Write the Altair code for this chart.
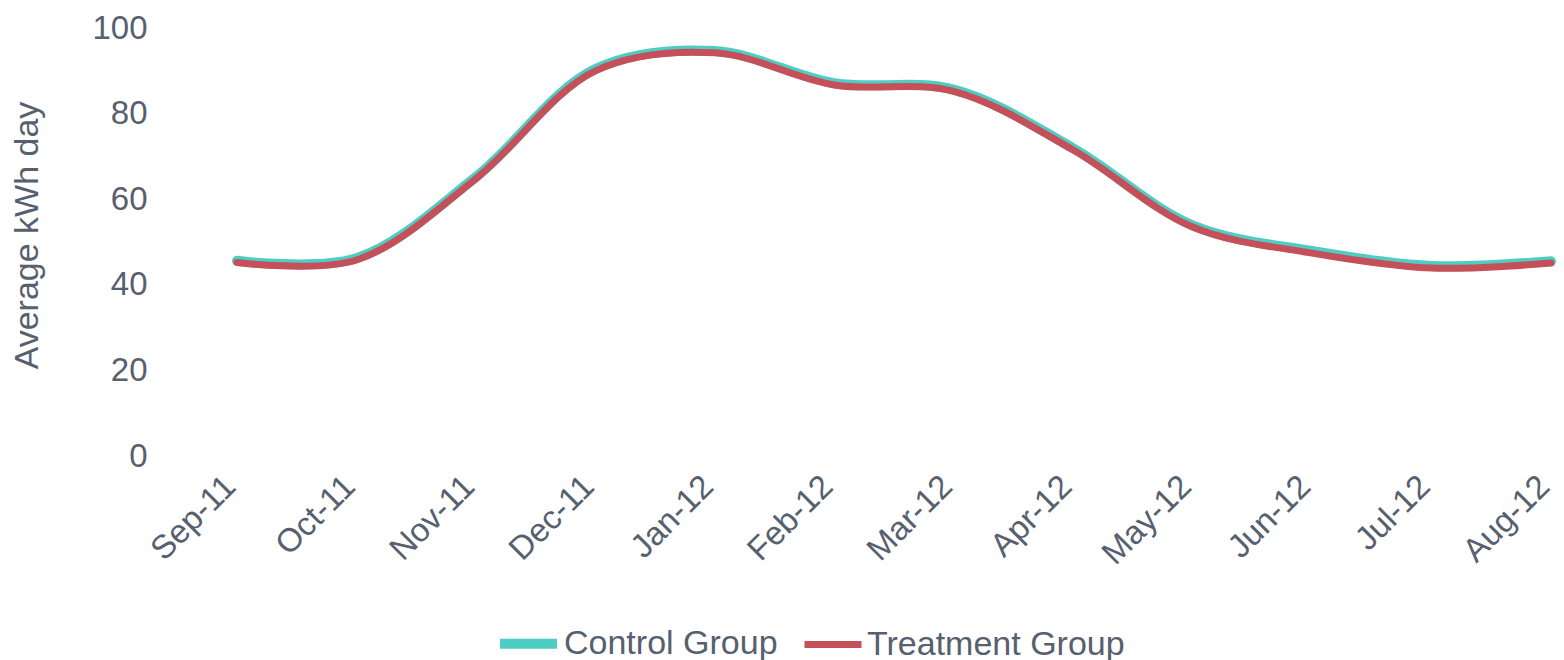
import altair as alt
import pandas as pd

months = ["Sep-11", "Oct-11", "Nov-11", "Dec-11", "Jan-12", "Feb-12",
          "Mar-12", "Apr-12", "May-12", "Jun-12", "Jul-12", "Aug-12"]
control = [45.6, 46.2, 65.2, 90.4, 94.6, 87.1, 85.6, 71.9, 53.9, 47.9, 44.4, 45.5]
treatment = [45.2, 45.8, 64.8, 90.0, 94.2, 86.7, 85.2, 71.5, 53.5, 47.4, 43.9, 45.1]
series = ["Control Group", "Treatment Group"]
colors = ["#4ecdc4", "#c5505a"]
widths = [10, 7]

rows = []
for m, c, t in zip(months, control, treatment):
    rows.append({"month": m, "value": c, "group": series[0]})
    rows.append({"month": m, "value": t, "group": series[1]})
df = pd.DataFrame(rows)

TXT = "#56606e"

leg = dict(title=None, orient="none", legendX=258, legendY=582,
           direction="horizontal", symbolType="stroke",
           symbolSize=3249, labelFontSize=34, labelLimit=0,
           labelFont="Liberation Sans",
           labelColor=TXT, labelOffset=2, columnPadding=12)

chart = alt.Chart(df).mark_line(interpolate="catmull-rom", strokeCap="round").encode(
    x=alt.X("month:O", sort=months, scale=alt.Scale(type="point", padding=0),
            axis=alt.Axis(title=None, labelAngle=-45, labelAlign="right", labelBaseline="alphabetic",
                          labelFontSize=33, labelFont="Liberation Sans", labelColor=TXT,
                          labelPadding=32, labelOffset=0, ticks=False, domain=False, grid=False)),
    y=alt.Y("value:Q", scale=alt.Scale(domain=[0, 100], nice=False),
            axis=alt.Axis(title="Average kWh day", values=[0, 20, 40, 60, 80, 100],
                          labelFontSize=33, labelFont="Liberation Sans", labelColor=TXT,
                          labelPadding=90, ticks=False, domain=False, grid=False,
                          titleFontSize=34, titleFont="Liberation Sans", titleColor=TXT,
                          titleFontWeight="normal", titlePadding=47, titleY=207)),
    color=alt.Color("group:N", scale=alt.Scale(domain=series, range=colors),
                    legend=alt.Legend(**leg)),
    strokeWidth=alt.StrokeWidth("group:N", scale=alt.Scale(domain=series, range=widths),
                                legend=alt.Legend(**leg)),
).properties(
    width=1314, height=428,
    padding={"left": 229, "top": 20, "right": 5, "bottom": 204},
    autosize=alt.AutoSizeParams(type="none"),
).configure(background="white").configure_view(stroke=None)

chart.save("out.html", embed_options={"renderer": "svg", "actions": False})
